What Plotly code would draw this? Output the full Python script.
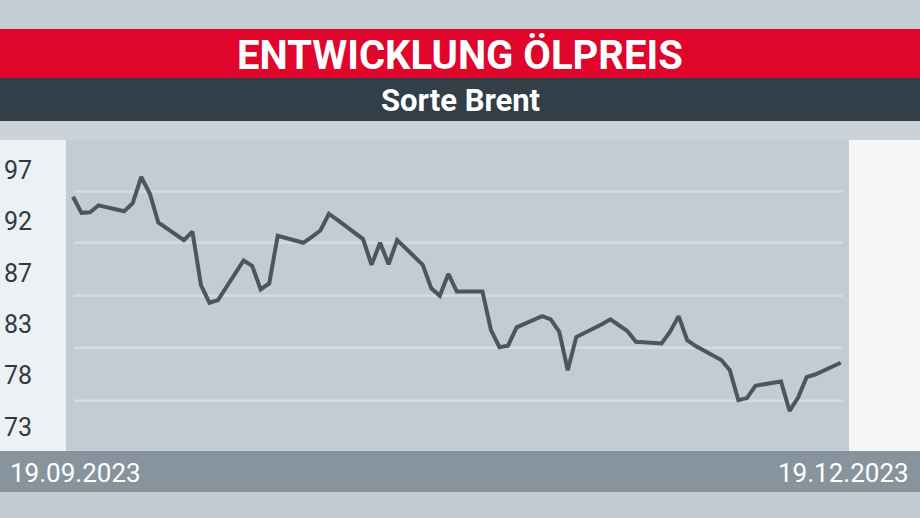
import plotly.graph_objects as go

W, H = 920, 518

# ---- data ----
dates = [
    "2023-09-19", "2023-09-20", "2023-09-21", "2023-09-22", "2023-09-25", "2023-09-26", "2023-09-27", "2023-09-28", "2023-09-29",
    "2023-10-02", "2023-10-03", "2023-10-04", "2023-10-05", "2023-10-06", "2023-10-09", "2023-10-10", "2023-10-11", "2023-10-12", "2023-10-13",
    "2023-10-16", "2023-10-17", "2023-10-18", "2023-10-19", "2023-10-20", "2023-10-23", "2023-10-24", "2023-10-25", "2023-10-26", "2023-10-27",
    "2023-10-30", "2023-10-31", "2023-11-01", "2023-11-02", "2023-11-03", "2023-11-06", "2023-11-07", "2023-11-08", "2023-11-09", "2023-11-10",
    "2023-11-13", "2023-11-14", "2023-11-15", "2023-11-16", "2023-11-17", "2023-11-20", "2023-11-21", "2023-11-22", "2023-11-23", "2023-11-24",
    "2023-11-27", "2023-11-28", "2023-11-29", "2023-11-30", "2023-12-01", "2023-12-04", "2023-12-05", "2023-12-06", "2023-12-07", "2023-12-08",
    "2023-12-11", "2023-12-12", "2023-12-13", "2023-12-14", "2023-12-15", "2023-12-18",
]
brent_prices = [
    94.5, 93.0, 93.05, 93.7, 93.15, 93.9, 96.35, 94.8, 92.1,
    90.45, 91.25, 86.25, 84.6, 84.85, 88.55, 88.05, 85.85, 86.4, 90.85,
    90.2, 90.75, 91.35, 92.9, 92.35, 90.55, 88.15, 90.2, 88.2, 90.45,
    88.15, 85.95, 85.25, 87.3, 85.65, 85.65, 82.05, 80.45, 80.6, 82.3,
    83.35, 83.05, 81.9, 78.3, 81.4, 82.6, 83.05, 82.5, 81.95, 80.95,
    80.8, 81.9, 83.35, 81.1, 80.55, 79.25, 78.3, 75.5, 75.7, 76.85,
    77.25, 74.5, 75.75, 77.65, 77.9, 79.0,
]
y_tick_values = [73.0, 77.8, 82.6, 87.4, 92.2, 97.0]
y_tick_labels = ["73", "78", "83", "87", "92", "97"]
grid_values = [75.45, 80.4, 85.25, 90.2, 95.0]
date_labels = ["19.09.2023", "19.12.2023"]
title_text = "ENTWICKLUNG ÖLPREIS"
subtitle_text = "Sorte Brent"

# ---- helpers (pixel -> paper) ----
def xp(px):
    return px / W

def yp(py):
    return 1 - py / H

FONT = "Roboto, Liberation Sans, Arial, sans-serif"

fig = go.Figure()
fig.add_trace(go.Scatter(
    x=dates, y=brent_prices, mode="lines",
    line=dict(color="#4a5760", width=4),
    hoverinfo="skip", showlegend=False,
))

shapes = []
def rect(x0, y0, x1, y1, color, layer="below"):
    shapes.append(dict(type="rect", xref="paper", yref="paper",
                       x0=xp(x0), x1=xp(x1), y0=yp(y1), y1=yp(y0),
                       fillcolor=color, line=dict(width=0), layer=layer))

rect(0, 0, 920, 29, "#c6ced5")
rect(0, 29, 920, 78, "#e0052a")
rect(0, 78, 920, 121, "#323e48")
rect(0, 121, 920, 140, "#cbd2d8")
rect(0, 140, 66, 451, "#eef1f4")
rect(849, 140, 920, 451, "#f4f6f8")
rect(0, 451, 920, 492, "#87949e")
rect(0, 492, 920, 518, "#c2cbd2")

for gv in grid_values:
    shapes.append(dict(type="line", xref="x domain", yref="y",
                       x0=0.01, x1=0.992, y0=gv, y1=gv,
                       line=dict(color="#d4dbe1", width=2.5), layer="below"))

annotations = [
    dict(text=title_text, xref="paper", yref="paper", x=xp(460), y=yp(55),
         xanchor="center", yanchor="middle", showarrow=False,
         font=dict(family=FONT, size=40, color="white", weight=700)),
    dict(text=subtitle_text, xref="paper", yref="paper", x=xp(460), y=yp(100),
         xanchor="center", yanchor="middle", showarrow=False,
         font=dict(family=FONT, size=31, color="white", weight=700)),
    dict(text=date_labels[0], xref="paper", yref="paper", x=xp(8), y=yp(473),
         xanchor="left", yanchor="middle", showarrow=False,
         font=dict(family=FONT, size=26, color="white")),
    dict(text=date_labels[1], xref="paper", yref="paper", x=xp(911), y=yp(473),
         xanchor="right", yanchor="middle", showarrow=False,
         font=dict(family=FONT, size=26, color="white")),
]

fig.update_layout(
    width=W, height=H,
    margin=dict(l=0, r=0, t=0, b=0),
    paper_bgcolor="#c6ced5",
    plot_bgcolor="#c3ccd4",
    shapes=shapes,
    annotations=annotations,
    showlegend=False,
    xaxis=dict(
        domain=[xp(66), xp(849)],
        range=["2023-09-18 04:19", "2023-12-18 23:18"],
        showgrid=False, zeroline=False, showticklabels=False, ticks="",
        showline=False, fixedrange=True,
    ),
    yaxis=dict(
        domain=[yp(450), yp(140)],
        range=[70.85, 99.8],
        tickvals=y_tick_values, ticktext=y_tick_labels,
        showgrid=False, zeroline=False, ticks="", showline=False,
        ticklabelstandoff=33,
        tickfont=dict(family=FONT, size=25, color="#2f3a42"),
        fixedrange=True,
    ),
)

fig.write_html(
    "out.html",
    config={"displayModeBar": False},
    post_script="document.body.style.margin='0';document.body.style.overflow='hidden';",
)
